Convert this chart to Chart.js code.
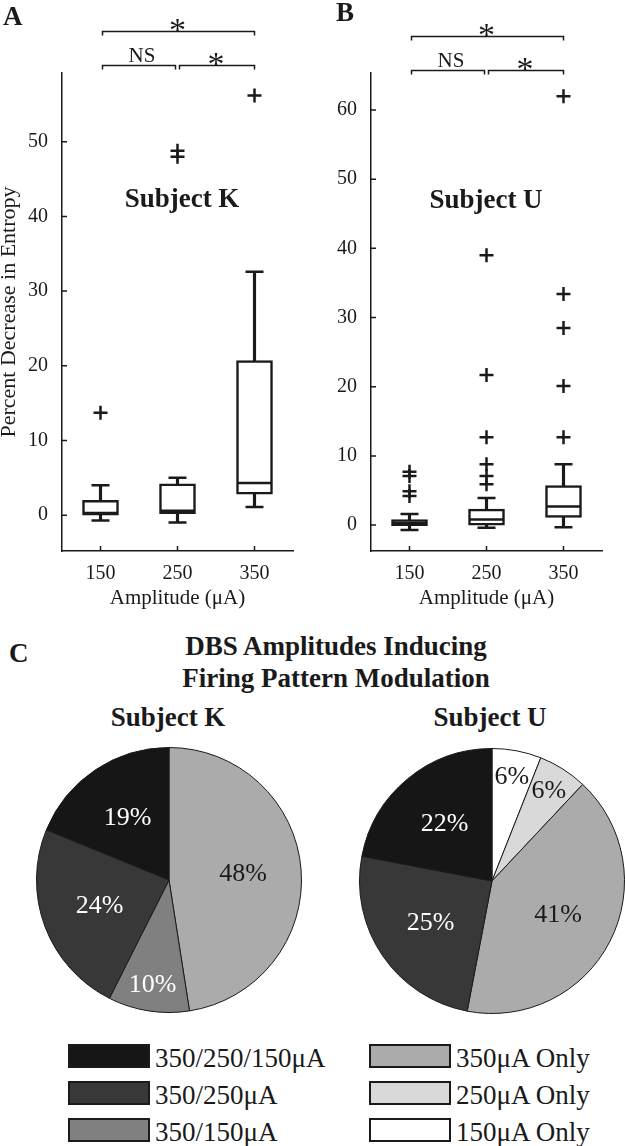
<!DOCTYPE html>
<html lang="en">
<head>
<meta charset="utf-8">
<title>Entropy decrease and DBS amplitudes</title>
<script src="https://cdn.jsdelivr.net/npm/chart.js@4.4.1/dist/chart.umd.min.js"></script>
<style>
    body { margin: 0; background: #fff; }
    #page { position: relative; width: 625px; height: 1146px; overflow: hidden; color: #1a1a1a; font-family: "Liberation Serif", "Times New Roman", serif; }
    #page canvas { position: absolute; }
    .label { position: absolute; white-space: nowrap; line-height: 1; }
    .swatch { position: absolute; box-sizing: border-box; width: 82px; height: 24px; border: 2px solid #1a1a1a; }
</style>
</head>
<body>
<div id="page">
    <canvas id="box-k" width="300" height="620" style="left:0;top:0"></canvas>
    <canvas id="box-u" width="325" height="620" style="left:300px;top:0"></canvas>
    <canvas id="pie-k" width="266" height="266" style="left:36px;top:747px"></canvas>
    <canvas id="pie-u" width="266" height="266" style="left:359px;top:748px"></canvas>
</div>
<script>
const amplitudes = ['150', '250', '350'];

// Subject K box plot summaries (percent decrease in entropy)
const kLow = [-0.7, -1.0, 1.1];
const kQ1 = [0.0, 0.2, 2.8];
const kMedian = [0.3, 0.6, 4.3];
const kQ3 = [2.0, 4.2, 20.7];
const kHigh = [4.0, 5.0, 32.6];
const kOutliers = [[13.7], [48.0, 48.8], [56.2]];
const kTicks = [0, 10, 20, 30, 40, 50];

// Subject U box plot summaries
const uLow = [-0.7, -0.4, -0.3];
const uQ1 = [-0.1, 0.0, 1.1];
const uMedian = [0.3, 0.8, 2.7];
const uQ3 = [0.8, 2.3, 5.7];
const uHigh = [1.6, 3.9, 8.8];
const uOutliers = [[4.2, 4.9, 7.1, 7.7], [5.9, 7.1, 8.8, 12.7, 21.7, 39.0], [12.7, 20.1, 28.5, 33.4, 62.0]];
const uTicks = [0, 10, 20, 30, 40, 50, 60];

// significance: 150 vs 350, 150 vs 250, 250 vs 350
const sigLabels = ['*', 'NS', '*'];

const patternLabels = ['350/250/150μA', '350/250μA', '350/150μA', '350μA Only', '250μA Only', '150μA Only'];
const patternColors = ['#161616', '#383838', '#808080', '#ababab', '#d9d9d9', '#ffffff'];

// pie slices, clockwise from 12 o'clock
const kPieCats = ['350μA Only', '350/150μA', '350/250μA', '350/250/150μA'];
const kPieValues = [48, 10, 24, 19];
const uPieCats = ['150μA Only', '250μA Only', '350μA Only', '350/250μA', '350/250/150μA'];
const uPieValues = [6, 6, 41, 25, 22];

const serif = '"Liberation Serif", "Times New Roman", serif';
const ink = '#1a1a1a';

const page = document.querySelector('#page');

const placeText = (text, x, baseline, size, weight, align) => {
    const el = document.createElement('div');
    el.className = 'label';
    el.textContent = text;
    el.style.fontSize = size + 'px';
    el.style.fontWeight = weight;
    el.style.top = (baseline - 0.8375 * size) + 'px';
    el.style.left = x + 'px';
    if (align === 'center') el.style.transform = 'translateX(-50%)';
    page.appendChild(el);
};

const innerTicks = {
    id: 'innerTicks',
    afterDraw(chart) {
        const {ctx, chartArea, scales: {x, y}} = chart;
        ctx.save();
        ctx.strokeStyle = ink;
        ctx.lineWidth = 1.5;
        ctx.beginPath();
        x.ticks.forEach((tick, i) => {
            const px = x.getPixelForTick(i);
            ctx.moveTo(px, chartArea.bottom);
            ctx.lineTo(px, chartArea.bottom - 5);
        });
        y.ticks.forEach((tick, i) => {
            const py = y.getPixelForTick(i);
            ctx.moveTo(chartArea.left, py);
            ctx.lineTo(chartArea.left + 5, py);
        });
        ctx.stroke();
        ctx.restore();
    }
};

const significance = {
    id: 'significance',
    afterDraw(chart, args, opts) {
        const {ctx, scales: {x}} = chart;
        const [x1, x2, x3] = amplitudes.map((a, i) => x.getPixelForValue(i));
        const bracket = (a, b, yy) => {
            ctx.moveTo(a, yy + 4);
            ctx.lineTo(a, yy);
            ctx.lineTo(b, yy);
            ctx.lineTo(b, yy + 4);
        };
        ctx.save();
        ctx.strokeStyle = ink;
        ctx.lineWidth = 1.5;
        ctx.beginPath();
        bracket(x1 + 2, x3, opts.upper);
        bracket(x1 + 2, x2 - 2, opts.lower);
        bracket(x2 + 2, x3, opts.lower);
        ctx.stroke();

        ctx.fillStyle = ink;
        ctx.textAlign = 'center';
        ctx.textBaseline = 'alphabetic';
        const spots = [[(x1 + x3) / 2, opts.upper], [(x1 + x2) / 2 + 3, opts.lower], [(x2 + x3) / 2, opts.lower]];
        sigLabels.forEach((text, i) => {
            const [cx, yy] = spots[i];
            if (text === '*') {
                ctx.font = `34px ${serif}`;
                ctx.fillText(text, cx, yy + 9);
            } else {
                ctx.font = `21px ${serif}`;
                ctx.fillText(text, cx, yy - 4);
            }
        });
        ctx.restore();
    }
};

const renderBoxPlot = (canvasId, stats, axis, marks) => {
    const outlierPoints = [];
    stats.outliers.forEach((list, i) => {
        list.forEach((value) => outlierPoints.push({x: amplitudes[i], y: value}));
    });

    const tickFont = {family: serif, size: 20};

    new Chart(document.getElementById(canvasId), {
        type: 'bar',
        data: {
            labels: amplitudes,
            datasets: [
                {
                    type: 'line', data: stats.median, showLine: false, order: 0,
                    pointStyle: 'line', pointRadius: 17, pointBorderWidth: 2.5, pointBorderColor: ink
                },
                {
                    data: stats.q1.map((v, i) => [v, stats.q3[i]]), order: 1, grouped: false,
                    backgroundColor: '#fff', borderColor: ink, borderWidth: 2.5, borderSkipped: false, barThickness: 36
                },
                {
                    data: stats.low.map((v, i) => [v, stats.high[i]]), order: 2, grouped: false,
                    backgroundColor: ink, borderWidth: 0, barThickness: 2.5
                },
                {
                    type: 'line', data: stats.low, showLine: false, order: 0,
                    pointStyle: 'line', pointRadius: 9, pointBorderWidth: 2.5, pointBorderColor: ink
                },
                {
                    type: 'line', data: stats.high, showLine: false, order: 0,
                    pointStyle: 'line', pointRadius: 9, pointBorderWidth: 2.5, pointBorderColor: ink
                },
                {
                    type: 'line', data: outlierPoints, showLine: false, order: 0,
                    pointStyle: 'cross', pointRadius: 7, pointBorderWidth: 2.5, pointBorderColor: ink
                }
            ]
        },
        options: {
            responsive: false,
            animation: false,
            layout: {autoPadding: false, padding: {top: 73, right: axis.padRight, left: 0, bottom: 0}},
            plugins: {
                legend: {display: false},
                tooltip: {enabled: false},
                significance: marks
            },
            scales: {
                x: {
                    grid: {display: false},
                    border: {display: true, color: ink, width: 1.5},
                    ticks: {color: ink, font: tickFont, padding: 3},
                    title: {
                        display: true, text: 'Amplitude (μA)', color: ink,
                        font: {family: serif, size: 21}, padding: {top: 0, bottom: 9}
                    },
                    afterFit: (scale) => { scale.height = 69; }
                },
                y: {
                    min: axis.min,
                    max: axis.max,
                    afterBuildTicks: (scale) => { scale.ticks = axis.ticks.map((v) => ({value: v})); },
                    grid: {display: false},
                    border: {display: true, color: ink, width: 1.5},
                    ticks: {color: ink, font: tickFont, padding: 6},
                    title: {
                        display: !!axis.title, text: axis.title || '', color: ink,
                        font: {family: serif, size: 22, lineHeight: 1}, padding: {top: -2, bottom: 0}
                    },
                    afterFit: (scale) => { scale.width = axis.width; }
                }
            }
        },
        plugins: [innerTicks, significance]
    });
};

const isDark = (hex) => {
    const n = parseInt(hex.slice(1), 16);
    const lum = (0.299 * (n >> 16) + 0.587 * ((n >> 8) & 255) + 0.114 * (n & 255)) / 255;
    return lum < 0.6;
};

const pieLabels = {
    id: 'pieLabels',
    afterDatasetsDraw(chart) {
        const {ctx} = chart;
        const dataset = chart.data.datasets[0];
        ctx.save();
        ctx.font = `26px ${serif}`;
        ctx.textAlign = 'center';
        ctx.textBaseline = 'middle';
        chart.getDatasetMeta(0).data.forEach((arc, i) => {
            const {x, y, startAngle, endAngle, outerRadius} = arc.getProps(['x', 'y', 'startAngle', 'endAngle', 'outerRadius']);
            const mid = (startAngle + endAngle) / 2;
            const r = outerRadius * (dataset.data[i] < 12 ? 0.8 : 0.56);
            ctx.fillStyle = isDark(dataset.backgroundColor[i]) ? '#fff' : ink;
            ctx.fillText(dataset.data[i] + '%', x + Math.cos(mid) * r, y + Math.sin(mid) * r);
        });
        ctx.restore();
    }
};

const renderPie = (canvasId, cats, values) => {
    new Chart(document.getElementById(canvasId), {
        type: 'pie',
        data: {
            labels: cats,
            datasets: [{
                data: values,
                backgroundColor: cats.map((c) => patternColors[patternLabels.indexOf(c)]),
                borderColor: ink,
                borderWidth: 1
            }]
        },
        options: {
            responsive: false,
            animation: false,
            plugins: {legend: {display: false}, tooltip: {enabled: false}}
        },
        plugins: [pieLabels]
    });
};

const renderLegend = () => {
    patternLabels.forEach((label, i) => {
        const col = Math.floor(i / 3);
        const row = i % 3;
        const left = col === 0 ? 68 : 369;
        const top = 1044 + row * 37;
        const swatch = document.createElement('div');
        swatch.className = 'swatch';
        swatch.style.left = left + 'px';
        swatch.style.top = top + 'px';
        swatch.style.background = patternColors[i];
        page.appendChild(swatch);
        placeText(label, left + 87, top + 24, 27, 'normal', 'left');
    });
};

renderBoxPlot('box-k',
    {low: kLow, q1: kQ1, median: kMedian, q3: kQ3, high: kHigh, outliers: kOutliers},
    {min: -4.8, max: 59.2, ticks: kTicks, width: 62, padRight: 7, title: 'Percent Decrease in Entropy'},
    {upper: 31.5, lower: 65.5});

renderBoxPlot('box-u',
    {low: uLow, q1: uQ1, median: uMedian, q3: uQ3, high: uHigh, outliers: uOutliers},
    {min: -3.75, max: 65.35, ticks: uTicks, width: 71, padRight: 23, title: null},
    {upper: 36.5, lower: 70.5});

renderPie('pie-k', kPieCats, kPieValues);
renderPie('pie-u', uPieCats, uPieValues);

placeText('A', 3, 26, 27, 'bold', 'left');
placeText('B', 336, 22, 27, 'bold', 'left');
placeText('Subject K', 182, 208, 27, 'bold', 'center');
placeText('Subject U', 486, 209, 27, 'bold', 'center');
placeText('C', 9, 663, 27, 'bold', 'left');
placeText('DBS Amplitudes Inducing', 336, 656, 27, 'bold', 'center');
placeText('Firing Pattern Modulation', 336, 688, 27, 'bold', 'center');
placeText('Subject K', 168, 727, 27, 'bold', 'center');
placeText('Subject U', 490, 727, 27, 'bold', 'center');
renderLegend();
</script>
</body>
</html>
